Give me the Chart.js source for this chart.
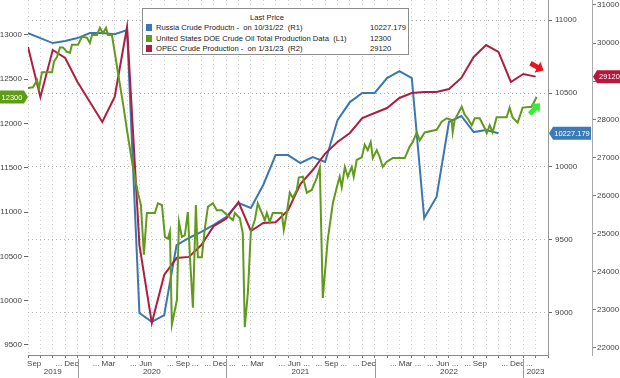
<!DOCTYPE html>
<html lang="en">
<head>
<meta charset="UTF-8">
<title>Crude Production</title>
<script src="https://cdn.jsdelivr.net/npm/chart.js"></script>
<style>
  html, body { margin: 0; padding: 0; background: #fff; }
  #wrap { position: relative; width: 620px; height: 378px; overflow: hidden; }
  #legend {
    position: absolute; left: 142px; top: 8px; width: 265px; height: 45px;
    background: #fff; border: 1px solid #8c8c8c;
    font-family: 'Liberation Sans', Arial, sans-serif; font-size: 7.6px; color: #222;
  }
  #legend .title { position: absolute; left: 0; width: 248px; top: 4px; text-align: center; }
  #legend .row { position: absolute; left: 3px; white-space: pre; line-height: 9px; }
  #legend .sw { display: inline-block; width: 6px; height: 7px; vertical-align: -1px; margin-right: 4px; }
  #legend .val { position: absolute; left: 227px; white-space: pre; line-height: 9px; }
</style>
</head>
<body>
<div id="wrap">
  <canvas id="chart" width="620" height="378"></canvas>
  <div id="legend"><div class="title">Last Price</div></div>
</div>
<script>
// x = months since start of Sep 2019
const monthLabels = ['Sep', '', '...', 'Dec', '', '...', 'Mar', '', '...', 'Jun', '', '...',
  'Sep', '...', '...', 'Dec', '...', '...', 'Mar', '', '...', 'Jun', '...', '...',
  'Sep', '...', '...', 'Dec', '', '...', 'Mar', '...', '...', 'Jun', '...', '...',
  'Sep', '', '...', 'Dec', '...', ''];
const yearLabels = ['2019', '2020', '2021', '2022', '2023'];
const yearStarts = [0, 4, 16, 28, 40, 42];

const leftTicks = [9500, 10000, 10500, 11000, 11500, 12000, 12500, 13000];
const r1Ticks = [9000, 9500, 10000, 10500, 11000];
const r2Ticks = [22000, 23000, 24000, 25000, 26000, 27000, 28000, 29000, 30000, 31000];

const seriesNames = [
  'Russia Crude Productn -  on 10/31/22  (R1)',
  'United States DOE Crude Oil Total Production Data  (L1)',
  'OPEC Crude Production -  on 1/31/23  (R2)'
];

// Russia, monthly (R1)
const russia = [10911, 10877, 10843, 10857, 10877, 10911, 10911, 10904, 10932, 9000,
  8939, 8986, 9464, 9512, 9553, 9601, 9655, 9751, 9717, 9874,
  10078, 10078, 10024, 10065, 10031, 10317, 10440, 10502, 10502, 10604,
  10652, 10604, 9648, 9792, 10304, 10345, 10235, 10249, 10227.179];

// OPEC, monthly (R2)
const opec = [29898, 28586, 29819, 29609, 28980, 28455, 27930, 28586, 30423, 24700,
  22656, 23915, 24360, 24390, 24700, 25200, 25390, 25830, 25070, 25280,
  25300, 25610, 26300, 26670, 27100, 27405, 27641, 28035, 28166, 28297,
  28560, 28691, 28717, 28717, 28796, 29085, 29636, 29950, 29767, 28980,
  29189, 29120];

// US DOE, weekly (L1)
const usX = [0.00, 0.40, 0.73, 0.89, 1.13, 1.53, 1.94, 2.10, 2.34, 2.58,
  2.82, 3.15, 3.39, 3.55, 4.04, 4.36, 4.76, 5.00, 5.17, 5.57,
  5.81, 6.05, 6.30, 6.46, 6.78, 7.26, 7.67, 7.99, 8.47, 8.88,
  9.12, 9.36, 9.60, 10.25, 10.49, 10.82, 11.06, 11.30, 11.46, 11.62,
  12.03, 12.19, 12.43, 12.67, 12.91, 13.08, 13.32, 13.56, 13.72, 14.04,
  14.29, 14.53, 14.93, 15.25, 15.66, 15.90, 16.55, 16.71, 17.11, 17.35,
  17.51, 17.76, 18.00, 18.32, 18.56, 18.89, 19.13, 19.29, 19.53, 19.77,
  20.50, 20.66, 20.90, 21.15, 21.39, 21.71, 21.87, 22.20, 22.52, 22.92,
  23.33, 23.57, 23.81, 24.21, 24.62, 24.94, 25.18, 25.34, 25.59, 25.83,
  26.15, 26.31, 26.55, 26.96, 27.20, 27.44, 27.68, 27.85, 28.17, 28.41,
  28.65, 28.98, 29.46, 30.43, 30.83, 31.07, 31.40, 31.64, 32.04, 33.01,
  33.41, 33.82, 34.22, 34.30, 34.46, 35.03, 35.27, 35.51, 35.84, 36.08,
  36.48, 36.88, 37.05, 37.29, 37.53, 37.85, 38.66, 38.90, 39.14, 39.55,
  39.95, 40.68, 41.08];
const usY = [12400, 12410, 12490, 12400, 12580, 12580, 12580, 12700, 12750, 12860,
  12860, 12810, 12800, 12890, 12890, 12980, 12970, 12910, 13000, 13000,
  13080, 13020, 13080, 13000, 13000, 12580, 12230, 11930, 11510, 11220,
  11080, 10520, 10990, 10990, 11100, 11080, 10720, 10700, 10780, 9730,
  10010, 10890, 10720, 10740, 11000, 10490, 9920, 11080, 10490, 10490,
  10820, 11060, 11100, 11020, 11020, 10990, 10910, 10990, 10930, 10760,
  9700, 10090, 10780, 10910, 11100, 10990, 10910, 10990, 10890, 10990,
  10990, 10800, 10990, 11220, 11160, 11250, 11390, 11400, 11220, 11250,
  11390, 11500, 10030, 10690, 11100, 11280, 11400, 11280, 11510, 11400,
  11510, 11400, 11590, 11620, 11760, 11700, 11790, 11610, 11700, 11620,
  11510, 11570, 11610, 11610, 11740, 11790, 11900, 11810, 11900, 11930,
  12020, 12060, 12040, 11900, 12040, 12190, 12100, 12060, 11980, 12060,
  12060, 11950, 11890, 11980, 11900, 12070, 12070, 12180, 12070, 12010,
  12180, 12190, 12300];

const BLUE = '#3b78b0', GREEN = '#629a1e', RED = '#ad1f40';
const FONT = "'Liberation Sans', Arial, sans-serif";

const lastRussia = russia[russia.length - 1];
const lastUS = usY[usY.length - 1];
const lastOpec = opec[opec.length - 1];

// legend rows
const legend = document.getElementById('legend');
[[BLUE, lastRussia], [GREEN, lastUS], [RED, lastOpec]].forEach(([c, v], i) => {
  const row = document.createElement('div');
  row.className = 'row';
  row.style.top = (14 + i * 10.5) + 'px';
  row.innerHTML = '<span class="sw" style="background:' + c + '"></span>' + seriesNames[i];
  legend.appendChild(row);
  const val = document.createElement('div');
  val.className = 'val';
  val.style.top = (14 + i * 10.5) + 'px';
  val.textContent = String(v);
  legend.appendChild(val);
});

function noPad(s) { s.paddingTop = 0; s.paddingBottom = 0; s.paddingLeft = 0; s.paddingRight = 0; }

function drawTag(ctx, x0, x1, y, color, text, pointRight) {
  const h = 13;
  ctx.fillStyle = color;
  ctx.beginPath();
  if (pointRight) {
    ctx.moveTo(x0, y - h / 2); ctx.lineTo(x1 - 4, y - h / 2); ctx.lineTo(x1, y);
    ctx.lineTo(x1 - 4, y + h / 2); ctx.lineTo(x0, y + h / 2);
  } else {
    ctx.moveTo(x0, y); ctx.lineTo(x0 + 4, y - h / 2); ctx.lineTo(x1, y - h / 2);
    ctx.lineTo(x1, y + h / 2); ctx.lineTo(x0 + 4, y + h / 2);
  }
  ctx.closePath();
  ctx.fill();
  ctx.fillStyle = '#fff';
  ctx.font = '7.5px ' + FONT;
  ctx.textAlign = 'center';
  ctx.textBaseline = 'middle';
  const cx = pointRight ? (x0 + x1 - 4) / 2 : (x0 + 4 + x1) / 2;
  ctx.fillText(text, cx, y + 0.5);
}

function drawArrow(ctx, cx, cy, angle, color) {
  ctx.save();
  ctx.translate(cx, cy);
  ctx.rotate(angle);
  ctx.fillStyle = color;
  ctx.beginPath();
  ctx.moveTo(-7, -2.5); ctx.lineTo(1, -2.5); ctx.lineTo(1, -6); ctx.lineTo(8, 0);
  ctx.lineTo(1, 6); ctx.lineTo(1, 2.5); ctx.lineTo(-7, 2.5);
  ctx.closePath();
  ctx.fill();
  ctx.restore();
}

const extras = {
  id: 'extras',
  afterDraw(chart) {
    const { ctx, chartArea } = chart;
    const { x, yL, yR1, yR2 } = chart.scales;
    ctx.save();
    // year row
    ctx.strokeStyle = '#999';
    ctx.lineWidth = 1;
    ctx.font = '8px ' + FONT;
    ctx.fillStyle = '#444';
    ctx.textAlign = 'center';
    ctx.textBaseline = 'middle';
    yearLabels.forEach((yl, i) => {
      const a = x.getPixelForValue(yearStarts[i]);
      const b = x.getPixelForValue(yearStarts[i + 1]);
      if (i > 0) {
        ctx.beginPath();
        ctx.moveTo(Math.round(a) + 0.5, chartArea.bottom + 4);
        ctx.lineTo(Math.round(a) + 0.5, 378);
        ctx.stroke();
      }
      ctx.fillText(yl, (a + b) / 2, 372);
    });
    // last price tags
    drawTag(ctx, 0, chartArea.left, yL.getPixelForValue(lastUS), '#5c9c18', String(lastUS), true);
    drawTag(ctx, yR1.left + 1, yR2.left - 1, yR1.getPixelForValue(lastRussia), '#3c7bb6', String(lastRussia), false);
    drawTag(ctx, yR2.left + 1, 622, yR2.getPixelForValue(lastOpec), '#b8163c', String(lastOpec), false);
    // trend arrows next to last points
    const ox = x.getPixelForValue(opec.length - 1);
    drawArrow(ctx, ox + 1, yR2.getPixelForValue(lastOpec) - 10, 0.5, '#e8141e');
    const ux = x.getPixelForValue(usX[usX.length - 1]);
    drawArrow(ctx, ux - 2, yL.getPixelForValue(lastUS) + 12, -0.8, '#3be83b');
    ctx.restore();
  }
};

const tickFont = { family: FONT, size: 8 };

new Chart(document.getElementById('chart'), {
  type: 'line',
  data: {
    datasets: [
      {
        label: seriesNames[1],
        data: usX.map((m, i) => ({ x: m, y: usY[i] })),
        yAxisID: 'yL', borderColor: GREEN, borderWidth: 2, order: 0
      },
      {
        label: seriesNames[2],
        data: opec.map((v, i) => ({ x: i, y: v })),
        yAxisID: 'yR2', borderColor: RED, borderWidth: 2, order: 1
      },
      {
        label: seriesNames[0],
        data: russia.map((v, i) => ({ x: i, y: v })),
        yAxisID: 'yR1', borderColor: BLUE, borderWidth: 2, order: 2
      }
    ]
  },
  options: {
    responsive: false,
    animation: false,
    devicePixelRatio: 1,
    layout: { padding: 0 },
    elements: { point: { radius: 0 }, line: { tension: 0, fill: false } },
    plugins: { legend: { display: false }, tooltip: { enabled: false } },
    scales: {
      x: {
        type: 'linear', min: 0, max: 42,
        afterBuildTicks: s => { s.ticks = monthLabels.map((_, i) => ({ value: i + 0.5 })); },
        afterFit: s => { s.height = 23; noPad(s); },
        grid: { offset: true, color: '#cccccc', tickColor: '#777', tickLength: 3 },
        border: { display: true, color: '#888', dash: [1, 3] },
        ticks: {
          autoSkip: false, maxRotation: 0, minRotation: 0, padding: 1,
          font: tickFont, color: '#444',
          callback: (v, i) => monthLabels[i]
        }
      },
      yL: {
        type: 'linear', position: 'left', min: 9387, max: 13395,
        afterBuildTicks: s => { s.ticks = leftTicks.map(v => ({ value: v })); },
        afterFit: s => { s.width = 28; noPad(s); },
        grid: { drawOnChartArea: false, tickLength: 4, tickColor: '#666' },
        border: { display: false },
        ticks: { padding: 2, font: tickFont, color: '#444', callback: v => String(v) }
      },
      yR1: {
        type: 'linear', position: 'right', weight: 0, min: 8713, max: 11137,
        afterBuildTicks: s => { s.ticks = r1Ticks.map(v => ({ value: v })); },
        afterFit: s => { s.width = 44; noPad(s); },
        grid: { drawOnChartArea: true, color: '#b4b4b4', tickColor: '#666', tickLength: 4 },
        border: { display: true, color: '#999', dash: [1, 3] },
        ticks: { padding: 3, font: tickFont, color: '#444', callback: v => String(v) }
      },
      yR2: {
        type: 'linear', position: 'right', weight: 1, min: 21816, max: 31131,
        afterBuildTicks: s => { s.ticks = r2Ticks.map(v => ({ value: v })); },
        afterFit: s => { s.width = 28; noPad(s); },
        grid: { drawOnChartArea: false, tickColor: '#777', tickLength: 4 },
        border: { display: true, color: '#aaa' },
        ticks: { padding: 1, font: tickFont, color: '#444', callback: v => String(v) }
      }
    }
  },
  plugins: [extras]
});
</script>
</body>
</html>
